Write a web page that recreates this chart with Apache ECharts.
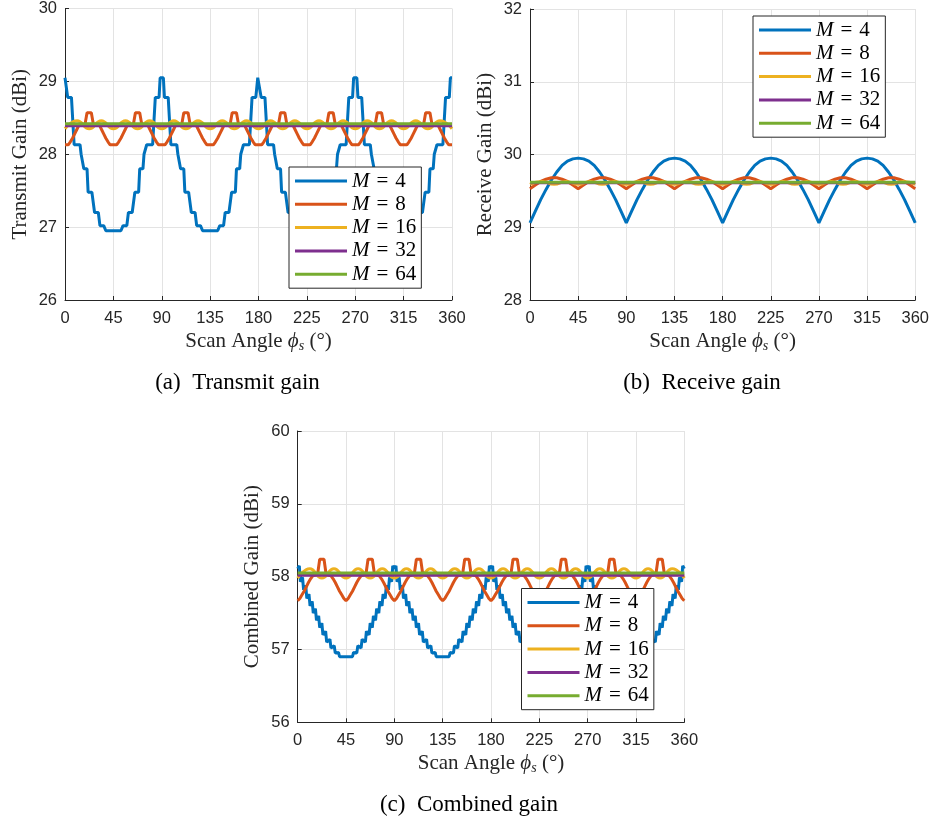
<!DOCTYPE html>
<html>
<head>
<meta charset="utf-8">
<script src="https://cdn.jsdelivr.net/npm/echarts@6/dist/echarts.min.js"></script>
<style>
  html, body { margin: 0; padding: 0; background: #fff; }
  #chart { width: 932px; height: 823px; }
</style>
</head>
<body>
<div id="chart"></div>
<script>
// legend names
const names = ['M = 4', 'M = 8', 'M = 16', 'M = 32', 'M = 64'];
const colors = ['#0072BD', '#D95319', '#EDB120', '#7E2F8E', '#77AC30'];

// x grids (scan angle, degrees)
const ang5 = [0, 5, 10, 15, 20, 25, 30, 35, 40, 45, 50, 55, 60, 65, 70, 75, 80, 85, 90,
  95, 100, 105, 110, 115, 120, 125, 130, 135, 140, 145, 150, 155, 160, 165, 170, 175, 180,
  185, 190, 195, 200, 205, 210, 215, 220, 225, 230, 235, 240, 245, 250, 255, 260, 265, 270,
  275, 280, 285, 290, 295, 300, 305, 310, 315, 320, 325, 330, 335, 340, 345, 350, 355, 360];
const ang11 = [0, 11.25, 22.5, 33.75, 45, 56.25, 67.5, 78.75, 90, 101.25, 112.5, 123.75,
  135, 146.25, 157.5, 168.75, 180, 191.25, 202.5, 213.75, 225, 236.25, 247.5, 258.75,
  270, 281.25, 292.5, 303.75, 315, 326.25, 337.5, 348.75, 360];

// (a) transmit gain, [angle, dBi]
const txM4 = [
  [0,29.05],[1.5,29.05],[2.5,28.78],[6,28.78],[8.5,28.13],[14,28.13],[15,28.0],[16.5,28.0],[17.5,27.8],[20.5,27.8],[21.5,27.48],[25,27.48],[27.5,27.2],[31,27.2],[32.5,27.02],[36,27.02],[38,26.95],
  [52,26.95],[54,27.02],[57.5,27.02],[59,27.2],[62.5,27.2],[65,27.48],[68.5,27.48],[69.5,27.8],[72.5,27.8],[73.5,28.0],[75,28.0],[76,28.13],[81.5,28.13],[84,28.78],[87.5,28.78],[88.5,29.05],[91.5,29.05],
  [92.5,28.78],[96,28.78],[98.5,28.13],[104,28.13],[105,28.0],[106.5,28.0],[107.5,27.8],[110.5,27.8],[111.5,27.48],[115,27.48],[117.5,27.2],[121,27.2],[122.5,27.02],[126,27.02],[128,26.95],
  [142,26.95],[144,27.02],[147.5,27.02],[149,27.2],[152.5,27.2],[155,27.48],[158.5,27.48],[159.5,27.8],[162.5,27.8],[163.5,28.0],[165,28.0],[166,28.13],[171.5,28.13],[174,28.78],[177.5,28.78],[179.3,29.05],[180.7,29.05],
  [182.5,28.78],[186,28.78],[188.5,28.13],[194,28.13],[195,28.0],[196.5,28.0],[197.5,27.8],[200.5,27.8],[201.5,27.48],[205,27.48],[207.5,27.2],[211,27.2],[212.5,27.02],[216,27.02],[218,26.95],
  [232,26.95],[234,27.02],[237.5,27.02],[239,27.2],[242.5,27.2],[245,27.48],[248.5,27.48],[249.5,27.8],[252.5,27.8],[253.5,28.0],[255,28.0],[256,28.13],[261.5,28.13],[264,28.78],[267.5,28.78],[268.5,29.05],[271.5,29.05],
  [272.5,28.78],[276,28.78],[278.5,28.13],[284,28.13],[285,28.0],[286.5,28.0],[287.5,27.8],[290.5,27.8],[291.5,27.48],[295,27.48],[297.5,27.2],[301,27.2],[302.5,27.02],[306,27.02],[308,26.95],
  [322,26.95],[324,27.02],[327.5,27.02],[329,27.2],[332.5,27.2],[335,27.48],[338.5,27.48],[339.5,27.8],[342.5,27.8],[343.5,28.0],[345,28.0],[346,28.13],[351.5,28.13],[354,28.78],[357.5,28.78],[358.5,29.05],[360,29.05]
];
const txM8 = [
  [0,28.13],[3,28.13],[5,28.17],[7,28.22],[9,28.28],[11,28.34],[13,28.40],[18.5,28.40],[20.5,28.57],[24.5,28.57],[26.5,28.40],[32,28.40],[34,28.34],[36,28.28],[38,28.22],[40,28.17],[42,28.13],
  [45,28.13],[48,28.13],[50,28.17],[52,28.22],[54,28.28],[56,28.34],[58,28.40],[63.5,28.40],[65.5,28.57],[69.5,28.57],[71.5,28.40],[77,28.40],[79,28.34],[81,28.28],[83,28.22],[85,28.17],[87,28.13],
  [90,28.13],[93,28.13],[95,28.17],[97,28.22],[99,28.28],[101,28.34],[103,28.40],[108.5,28.40],[110.5,28.57],[114.5,28.57],[116.5,28.40],[122,28.40],[124,28.34],[126,28.28],[128,28.22],[130,28.17],[132,28.13],
  [135,28.13],[138,28.13],[140,28.17],[142,28.22],[144,28.28],[146,28.34],[148,28.40],[153.5,28.40],[155.5,28.57],[159.5,28.57],[161.5,28.40],[167,28.40],[169,28.34],[171,28.28],[173,28.22],[175,28.17],[177,28.13],
  [180,28.13],[183,28.13],[185,28.17],[187,28.22],[189,28.28],[191,28.34],[193,28.40],[198.5,28.40],[200.5,28.57],[204.5,28.57],[206.5,28.40],[212,28.40],[214,28.34],[216,28.28],[218,28.22],[220,28.17],[222,28.13],
  [225,28.13],[228,28.13],[230,28.17],[232,28.22],[234,28.28],[236,28.34],[238,28.40],[243.5,28.40],[245.5,28.57],[249.5,28.57],[251.5,28.40],[257,28.40],[259,28.34],[261,28.28],[263,28.22],[265,28.17],[267,28.13],
  [270,28.13],[273,28.13],[275,28.17],[277,28.22],[279,28.28],[281,28.34],[283,28.40],[288.5,28.40],[290.5,28.57],[294.5,28.57],[296.5,28.40],[302,28.40],[304,28.34],[306,28.28],[308,28.22],[310,28.17],[312,28.13],
  [315,28.13],[318,28.13],[320,28.17],[322,28.22],[324,28.28],[326,28.34],[328,28.40],[333.5,28.40],[335.5,28.57],[339.5,28.57],[341.5,28.40],[347,28.40],[349,28.34],[351,28.28],[353,28.22],[355,28.17],[357,28.13],[360,28.13]
];
const txM16 = [28.35,28.46,28.35,28.46,28.35,28.46,28.35,28.46,28.35,28.46,28.35,28.46,28.35,28.46,28.35,28.46,
  28.35,28.46,28.35,28.46,28.35,28.46,28.35,28.46,28.35,28.46,28.35,28.46,28.35,28.46,28.35,28.46,28.35];
const txM32 = [28.39,28.39,28.39,28.39,28.39,28.39,28.39,28.39,28.39,28.39,28.39,28.39,28.39,28.39,28.39,28.39,
  28.39,28.39,28.39,28.39,28.39,28.39,28.39,28.39,28.39,28.39,28.39,28.39,28.39,28.39,28.39,28.39,28.39];
const txM64 = [28.42,28.42,28.42,28.42,28.42,28.42,28.42,28.42,28.42,28.42,28.42,28.42,28.42,28.42,28.42,28.42,
  28.42,28.42,28.42,28.42,28.42,28.42,28.42,28.42,28.42,28.42,28.42,28.42,28.42,28.42,28.42,28.42,28.42];

// (b) receive gain, on ang5 / ang11
const rxM4 = [29.06,29.22,29.38,29.52,29.65,29.76,29.85,29.91,29.94,29.95,29.94,29.91,29.85,29.76,29.65,29.52,29.38,29.22,
  29.06,29.22,29.38,29.52,29.65,29.76,29.85,29.91,29.94,29.95,29.94,29.91,29.85,29.76,29.65,29.52,29.38,29.22,
  29.06,29.22,29.38,29.52,29.65,29.76,29.85,29.91,29.94,29.95,29.94,29.91,29.85,29.76,29.65,29.52,29.38,29.22,
  29.06,29.22,29.38,29.52,29.65,29.76,29.85,29.91,29.94,29.95,29.94,29.91,29.85,29.76,29.65,29.52,29.38,29.22,29.06];
const rxM8 = [29.53,29.58,29.63,29.66,29.68,29.68,29.66,29.63,29.58, 29.53,29.58,29.63,29.66,29.68,29.68,29.66,29.63,29.58,
  29.53,29.58,29.63,29.66,29.68,29.68,29.66,29.63,29.58, 29.53,29.58,29.63,29.66,29.68,29.68,29.66,29.63,29.58,
  29.53,29.58,29.63,29.66,29.68,29.68,29.66,29.63,29.58, 29.53,29.58,29.63,29.66,29.68,29.68,29.66,29.63,29.58,
  29.53,29.58,29.63,29.66,29.68,29.68,29.66,29.63,29.58, 29.53,29.58,29.63,29.66,29.68,29.68,29.66,29.63,29.58,29.53];
const rxM16 = [29.59,29.63,29.59,29.63,29.59,29.63,29.59,29.63,29.59,29.63,29.59,29.63,29.59,29.63,29.59,29.63,
  29.59,29.63,29.59,29.63,29.59,29.63,29.59,29.63,29.59,29.63,29.59,29.63,29.59,29.63,29.59,29.63,29.59];
const rxM32 = [29.61,29.61,29.61,29.61,29.61,29.61,29.61,29.61,29.61,29.61,29.61,29.61,29.61,29.61,29.61,29.61,
  29.61,29.61,29.61,29.61,29.61,29.61,29.61,29.61,29.61,29.61,29.61,29.61,29.61,29.61,29.61,29.61,29.61];
const rxM64 = [29.62,29.62,29.62,29.62,29.62,29.62,29.62,29.62,29.62,29.62,29.62,29.62,29.62,29.62,29.62,29.62,
  29.62,29.62,29.62,29.62,29.62,29.62,29.62,29.62,29.62,29.62,29.62,29.62,29.62,29.62,29.62,29.62,29.62];

// (c) combined gain, [angle, dBi]
const cbM4 = [
  [0,58.11],[1.5,58.15],[2.5,57.93],[4.5,57.99],[5.5,57.82],[7.5,57.88],[8.5,57.70],[10.5,57.76],[11.5,57.60],[13.5,57.66],[14.5,57.50],[16.5,57.56],[17.5,57.40],[19.5,57.46],[20.5,57.30],[22.5,57.36],[23.5,57.20],[26,57.25],[27,57.10],[30,57.14],[31,57.02],[34,57.05],[35,56.95],[38,56.96],[39,56.90],
  [51,56.90],[52,56.96],[55,56.95],[56,57.05],[59,57.02],[60,57.14],[63,57.10],[64,57.25],[66.5,57.20],[67.5,57.36],[69.5,57.30],[70.5,57.46],[72.5,57.40],[73.5,57.56],[75.5,57.50],[76.5,57.66],[78.5,57.60],[79.5,57.76],[81.5,57.70],[82.5,57.88],[84.5,57.82],[85.5,57.99],[87.5,57.93],[88.5,58.15],[90,58.11],
  [91.5,58.15],[92.5,57.93],[94.5,57.99],[95.5,57.82],[97.5,57.88],[98.5,57.70],[100.5,57.76],[101.5,57.60],[103.5,57.66],[104.5,57.50],[106.5,57.56],[107.5,57.40],[109.5,57.46],[110.5,57.30],[112.5,57.36],[113.5,57.20],[116,57.25],[117,57.10],[120,57.14],[121,57.02],[124,57.05],[125,56.95],[128,56.96],[129,56.90],
  [141,56.90],[142,56.96],[145,56.95],[146,57.05],[149,57.02],[150,57.14],[153,57.10],[154,57.25],[156.5,57.20],[157.5,57.36],[159.5,57.30],[160.5,57.46],[162.5,57.40],[163.5,57.56],[165.5,57.50],[166.5,57.66],[168.5,57.60],[169.5,57.76],[171.5,57.70],[172.5,57.88],[174.5,57.82],[175.5,57.99],[177.5,57.93],[178.5,58.15],[180,58.11],
  [181.5,58.15],[182.5,57.93],[184.5,57.99],[185.5,57.82],[187.5,57.88],[188.5,57.70],[190.5,57.76],[191.5,57.60],[193.5,57.66],[194.5,57.50],[196.5,57.56],[197.5,57.40],[199.5,57.46],[200.5,57.30],[202.5,57.36],[203.5,57.20],[206,57.25],[207,57.10],[210,57.14],[211,57.02],[214,57.05],[215,56.95],[218,56.96],[219,56.90],
  [231,56.90],[232,56.96],[235,56.95],[236,57.05],[239,57.02],[240,57.14],[243,57.10],[244,57.25],[246.5,57.20],[247.5,57.36],[249.5,57.30],[250.5,57.46],[252.5,57.40],[253.5,57.56],[255.5,57.50],[256.5,57.66],[258.5,57.60],[259.5,57.76],[261.5,57.70],[262.5,57.88],[264.5,57.82],[265.5,57.99],[267.5,57.93],[268.5,58.15],[270,58.11],
  [271.5,58.15],[272.5,57.93],[274.5,57.99],[275.5,57.82],[277.5,57.88],[278.5,57.70],[280.5,57.76],[281.5,57.60],[283.5,57.66],[284.5,57.50],[286.5,57.56],[287.5,57.40],[289.5,57.46],[290.5,57.30],[292.5,57.36],[293.5,57.20],[296,57.25],[297,57.10],[300,57.14],[301,57.02],[304,57.05],[305,56.95],[308,56.96],[309,56.90],
  [321,56.90],[322,56.96],[325,56.95],[326,57.05],[329,57.02],[330,57.14],[333,57.10],[334,57.25],[336.5,57.20],[337.5,57.36],[339.5,57.30],[340.5,57.46],[342.5,57.40],[343.5,57.56],[345.5,57.50],[346.5,57.66],[348.5,57.60],[349.5,57.76],[351.5,57.70],[352.5,57.88],[354.5,57.82],[355.5,57.99],[357.5,57.93],[358.5,58.15],[360,58.11]
];
const cbM8 = [
  [0,57.67],[2,57.70],[4,57.75],[6,57.80],[8,57.86],[10,57.92],[12,57.97],[14,58.01],[18.5,58.03],[20.5,58.24],[24.5,58.24],[26.5,58.03],[31,58.01],[33,57.97],[35,57.92],[37,57.86],[39,57.80],[41,57.75],[43,57.70],
  [45,57.67],[47,57.70],[49,57.75],[51,57.80],[53,57.86],[55,57.92],[57,57.97],[59,58.01],[63.5,58.03],[65.5,58.24],[69.5,58.24],[71.5,58.03],[76,58.01],[78,57.97],[80,57.92],[82,57.86],[84,57.80],[86,57.75],[88,57.70],
  [90,57.67],[92,57.70],[94,57.75],[96,57.80],[98,57.86],[100,57.92],[102,57.97],[104,58.01],[108.5,58.03],[110.5,58.24],[114.5,58.24],[116.5,58.03],[121,58.01],[123,57.97],[125,57.92],[127,57.86],[129,57.80],[131,57.75],[133,57.70],
  [135,57.67],[137,57.70],[139,57.75],[141,57.80],[143,57.86],[145,57.92],[147,57.97],[149,58.01],[153.5,58.03],[155.5,58.24],[159.5,58.24],[161.5,58.03],[166,58.01],[168,57.97],[170,57.92],[172,57.86],[174,57.80],[176,57.75],[178,57.70],
  [180,57.67],[182,57.70],[184,57.75],[186,57.80],[188,57.86],[190,57.92],[192,57.97],[194,58.01],[198.5,58.03],[200.5,58.24],[204.5,58.24],[206.5,58.03],[211,58.01],[213,57.97],[215,57.92],[217,57.86],[219,57.80],[221,57.75],[223,57.70],
  [225,57.67],[227,57.70],[229,57.75],[231,57.80],[233,57.86],[235,57.92],[237,57.97],[239,58.01],[243.5,58.03],[245.5,58.24],[249.5,58.24],[251.5,58.03],[256,58.01],[258,57.97],[260,57.92],[262,57.86],[264,57.80],[266,57.75],[268,57.70],
  [270,57.67],[272,57.70],[274,57.75],[276,57.80],[278,57.86],[280,57.92],[282,57.97],[284,58.01],[288.5,58.03],[290.5,58.24],[294.5,58.24],[296.5,58.03],[301,58.01],[303,57.97],[305,57.92],[307,57.86],[309,57.80],[311,57.75],[313,57.70],
  [315,57.67],[317,57.70],[319,57.75],[321,57.80],[323,57.86],[325,57.92],[327,57.97],[329,58.01],[333.5,58.03],[335.5,58.24],[339.5,58.24],[341.5,58.03],[346,58.01],[348,57.97],[350,57.92],[352,57.86],[354,57.80],[356,57.75],[358,57.70],[360,57.67]
];
const cbM16 = [57.98,58.11,57.98,58.11,57.98,58.11,57.98,58.11,57.98,58.11,57.98,58.11,57.98,58.11,57.98,58.11,
  57.98,58.11,57.98,58.11,57.98,58.11,57.98,58.11,57.98,58.11,57.98,58.11,57.98,58.11,57.98,58.11,57.98];
const cbM32 = [58.02,58.02,58.02,58.02,58.02,58.02,58.02,58.02,58.02,58.02,58.02,58.02,58.02,58.02,58.02,58.02,
  58.02,58.02,58.02,58.02,58.02,58.02,58.02,58.02,58.02,58.02,58.02,58.02,58.02,58.02,58.02,58.02,58.02];
const cbM64 = [58.05,58.05,58.05,58.05,58.05,58.05,58.05,58.05,58.05,58.05,58.05,58.05,58.05,58.05,58.05,58.05,
  58.05,58.05,58.05,58.05,58.05,58.05,58.05,58.05,58.05,58.05,58.05,58.05,58.05,58.05,58.05,58.05,58.05];

const zip = (xs, ys) => xs.map((x, i) => [x, ys[i]]);

const AX = '#262626';
const tickFont = { fontFamily: 'Liberation Sans', fontSize: 16.5, color: AX };
const serif = 'Liberation Serif';

function xAx(gi) {
  return {
    type: 'value', gridIndex: gi, min: 0, max: 360, interval: 45,
    axisLine: { show: true, onZero: false, lineStyle: { color: AX, width: 1 } },
    axisTick: { show: true, inside: true, length: 4, lineStyle: { color: AX } },
    axisLabel: Object.assign({ margin: 10 }, tickFont),
    splitLine: { show: true, lineStyle: { color: '#e3e3e3', width: 1 } },
    name: '{t|Scan Angle }{i|ϕ}{s|s}{t| (°)}',
    nameLocation: 'middle', nameGap: 29,
    nameTextStyle: {
      fontFamily: serif, fontSize: 21, color: AX,
      rich: {
        t: { fontFamily: serif, fontSize: 21, color: AX, lineHeight: 24 },
        i: { fontFamily: serif, fontSize: 21, fontStyle: 'italic', color: AX, lineHeight: 24 },
        s: { fontFamily: serif, fontSize: 14, fontStyle: 'italic', color: AX, lineHeight: 16, verticalAlign: 'bottom' }
      }
    }
  };
}
function yAx(gi, min, max, title) {
  return {
    type: 'value', gridIndex: gi, min: min, max: max, interval: 1,
    axisLine: { show: true, onZero: false, lineStyle: { color: AX, width: 1 } },
    axisTick: { show: true, inside: true, length: 4, lineStyle: { color: AX } },
    axisLabel: Object.assign({ margin: 8 }, tickFont),
    splitLine: { show: true, lineStyle: { color: '#e3e3e3', width: 1 } },
    name: title, nameLocation: 'middle', nameGap: 33,
    nameTextStyle: { fontFamily: serif, fontSize: 21, color: AX, lineHeight: 24 }
  };
}
function legendAt(left, top) {
  return {
    orient: 'vertical', left: left, top: top, data: names, selectedMode: false,
    icon: 'rect', itemWidth: 52, itemHeight: 3, itemGap: 1.3,
    padding: [3, 5, 3, 6],
    backgroundColor: '#fff', borderColor: AX, borderWidth: 1, borderRadius: 0,
    // wider spacing round "=" as in the typeset legend
    formatter: n => '{m|M}\u2004=\u2004' + n.slice(4),
    textStyle: {
      fontFamily: serif, fontSize: 21, color: '#000', lineHeight: 22,
      rich: { m: { fontFamily: serif, fontSize: 21, fontStyle: 'italic', color: '#000', lineHeight: 22 } }
    }
  };
}
function ln(gi, k, data, smooth) {
  return {
    name: names[k], type: 'line', xAxisIndex: gi, yAxisIndex: gi, data: data,
    symbol: 'none', smooth: smooth ? 0.5 : false,
    lineStyle: { width: 3, color: colors[k] }, itemStyle: { color: colors[k] },
    emphasis: { disabled: true }
  };
}
function caption(x, y, text) {
  return {
    type: 'text', x: x, y: y,
    style: {
      text: text, font: '23px "Liberation Serif"', fill: '#000',
      align: 'center', verticalAlign: 'middle', textAlign: 'center', textVerticalAlign: 'middle'
    }
  };
}

const chart = echarts.init(document.getElementById('chart'));
chart.setOption({
  animation: false,
  backgroundColor: '#fff',
  grid: [
    { left: 65, top: 8.5, width: 387, height: 291.5 },
    { left: 530, top: 9, width: 387, height: 291 },
    { left: 297.7, top: 431, width: 386.6, height: 291.3 }
  ],
  xAxis: [xAx(0), xAx(1), xAx(2)],
  yAxis: [
    yAx(0, 26, 30, 'Transmit Gain (dBi)'),
    yAx(1, 28, 32, 'Receive Gain (dBi)'),
    yAx(2, 56, 60, 'Combined Gain (dBi)')
  ],
  legend: [legendAt(289, 167), legendAt(753, 16), legendAt(521.5, 588.5)],
  series: [
    ln(0, 0, txM4), ln(0, 1, txM8), ln(0, 2, zip(ang11, txM16), true), ln(0, 3, zip(ang11, txM32)), ln(0, 4, zip(ang11, txM64)),
    ln(1, 0, zip(ang5, rxM4)), ln(1, 1, zip(ang5, rxM8)), ln(1, 2, zip(ang11, rxM16), true), ln(1, 3, zip(ang11, rxM32)), ln(1, 4, zip(ang11, rxM64)),
    ln(2, 0, cbM4), ln(2, 1, cbM8), ln(2, 2, zip(ang11, cbM16), true), ln(2, 3, zip(ang11, cbM32)), ln(2, 4, zip(ang11, cbM64))
  ],
  graphic: [
    caption(237.5, 383, '(a)  Transmit gain'),
    caption(702, 383, '(b)  Receive gain'),
    caption(469, 805, '(c)  Combined gain')
  ]
});
</script>
</body>
</html>
